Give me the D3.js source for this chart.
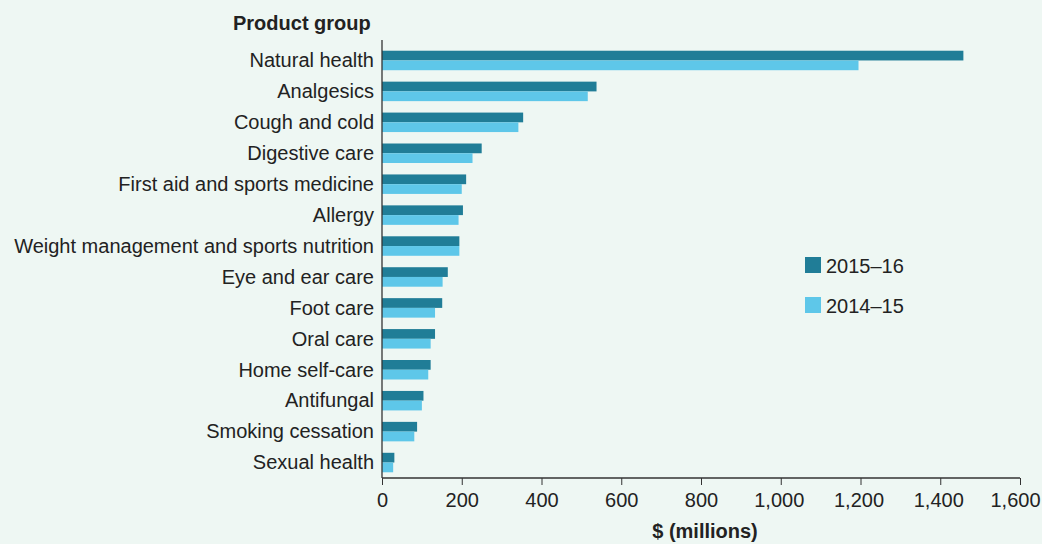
<!DOCTYPE html>
<html><head><meta charset="utf-8">
<script src="https://cdn.jsdelivr.net/npm/d3@7"></script>
<style>
html,body{margin:0;padding:0;background:#eef7f3;}
svg{display:block;font-family:"Liberation Sans",Arial,sans-serif;}
</style></head>
<body>
<svg id="chart" width="1042" height="544"></svg>
<script>
const categories = ["Natural health","Analgesics","Cough and cold","Digestive care","First aid and sports medicine","Allergy","Weight management and sports nutrition","Eye and ear care","Foot care","Oral care","Home self-care","Antifungal","Smoking cessation","Sexual health"];
const series = ["2015–16","2014–15"];
const values2015_16 = [1458, 538, 354, 250, 211, 203, 194, 165, 151, 133, 122, 104, 88, 31];
const values2014_15 = [1195, 516, 342, 227, 200, 192, 194, 152, 133, 122, 116, 100, 81, 28];
const xTicks = [0,200,400,600,800,1000,1200,1400,1600];
const colors = ["#207d97","#5ec7e9"];

const FS = 20;
const svg = d3.select("#chart");
const x = d3.scaleLinear().domain([0,1600]).range([382,1020]);
const y = d3.scaleBand().domain(categories).range([45,478]).paddingInner(0.37).paddingOuter(0.185);
const ySub = d3.scaleBand().domain(series).range([0,y.bandwidth()]);

const data = categories.map((c,i)=>({cat:c, vals:[values2015_16[i], values2014_15[i]]}));

const g = svg.append("g");
data.forEach(d=>{
  series.forEach((s,j)=>{
    g.append("rect")
      .attr("x", x(0))
      .attr("y", y(d.cat)+ySub(s))
      .attr("width", x(d.vals[j])-x(0))
      .attr("height", ySub.bandwidth())
      .attr("fill", colors[j]);
  });
});

// y axis
const yAxis = d3.axisLeft(y).tickSize(0).tickPadding(8);
const ya = svg.append("g").attr("transform",`translate(${x(0)},0)`).call(yAxis);
ya.select(".domain").remove();
ya.selectAll("text").attr("font-size",FS).attr("fill","#222").attr("font-family","Liberation Sans, Arial, sans-serif").attr("dy","0.34em");
svg.append("line").attr("x1",x(0)).attr("x2",x(0)).attr("y1",40).attr("y2",478).attr("stroke","#333").attr("stroke-width",1.3);

// x axis
const xAxis = d3.axisBottom(x).tickValues(xTicks).tickSize(7).tickPadding(8).tickFormat(d3.format(","));
const xa = svg.append("g").attr("transform","translate(0,478)").call(xAxis);
xa.select(".domain").attr("stroke","#333").attr("stroke-width",1.3).attr("d",`M${x(0)},0H${x(1600)}`);
xa.selectAll(".tick line").attr("stroke","#333");
xa.selectAll("text").attr("font-size",FS).attr("fill","#222").attr("font-family","Liberation Sans, Arial, sans-serif")
  .attr("dx", d => d === 1600 ? -5 : (d >= 1000 ? -2 : 0));

// titles
svg.append("text").attr("x",233).attr("y",30).attr("font-size",FS).attr("font-weight","bold").attr("fill","#222").text("Product group");
svg.append("text").attr("x",705).attr("y",538).attr("text-anchor","middle").attr("font-size",FS).attr("font-weight","bold").attr("fill","#222").text("$ (millions)");

// legend
const leg = svg.append("g");
series.forEach((s,j)=>{
  const yy = 257 + j*40;
  leg.append("rect").attr("x",805).attr("y",yy).attr("width",16).attr("height",16).attr("fill",colors[j]);
  leg.append("text").attr("x",826).attr("y",yy+16).attr("font-size",FS).attr("fill","#222").text(s);
});
</script>
</body></html>
